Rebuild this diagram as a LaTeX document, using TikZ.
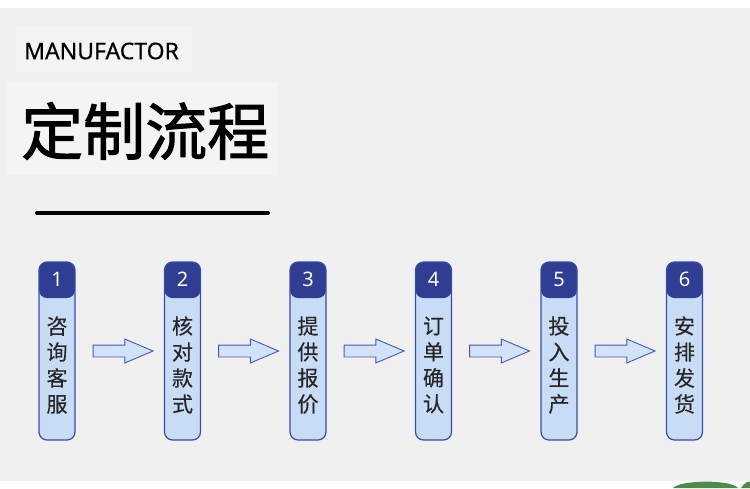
\documentclass[tikz,border=0pt]{standalone}
\usepackage{fontspec}
\setmainfont{Noto Sans}
\newfontfamily\cjk{Noto Sans CJK SC}
\usepackage{tikz}
\usetikzlibrary{shapes.arrows, positioning}
\definecolor{bgGray}{HTML}{F0F0F0}
\definecolor{panelGray}{HTML}{F4F4F4}
\definecolor{hdBlue}{HTML}{2F3E93}
\definecolor{bodyBlue}{HTML}{C9DCF5}
\definecolor{edgeBlue}{HTML}{3A4BA8}
\definecolor{arrowBlue}{HTML}{D2E2F8}
\definecolor{arrowEdge}{HTML}{4458BE}
\definecolor{leafGreen}{HTML}{4E8A4A}
\tikzset{
  stepbox/.style={
    rectangle, rounded corners=8pt,
    draw=edgeBlue, line width=1.2pt, fill=bodyBlue,
    minimum width=36pt, minimum height=178pt, inner sep=0pt,
    path picture={\fill[hdBlue] (path picture bounding box.north west)
      rectangle ([yshift=-36pt]path picture bounding box.north east);},
  },
  stepnum/.style={font=\fontsize{20}{20}\selectfont, text=white, inner sep=0pt},
  steptext/.style={font=\cjk\fontsize{21}{26}\selectfont\addfontfeature{FakeBold=0.3},
    align=center, text=black!85, inner sep=0pt},
  blockarrow/.style={single arrow, draw=arrowEdge, fill=arrowBlue,
    line width=0.9pt, minimum height=60pt, inner ysep=5.5pt, inner xsep=0pt,
    single arrow head extend=6pt, single arrow tip angle=46},
}

\begin{document}
\begin{tikzpicture}[
  x=1pt, y=-1pt,
  panel/.style={fill=panelGray, draw=none},
]
  \useasboundingbox (0,0) rectangle (750,488);
  % background
  \fill[white] (0,0) rectangle (750,8);
  \fill[bgGray] (0,8) rectangle (750,481);
  \fill[white] (0,481) rectangle (750,488);
  \fill[panel] (16,27) rectangle (192,72);
  \fill[panel] (7,82) rectangle (277,175);
  \fill[leafGreen] (673,488) .. controls (680,480) and (730,479) .. (738,488) -- cycle;
  \fill[leafGreen] (741,488) .. controls (744,482) and (750,481) .. (750,482) -- (750,488) -- cycle;

  % Title
  \node[font=\fontsize{23}{23}\selectfont\addfontfeature{FakeBold=0.4}, anchor=west, inner sep=0pt] (brand) at (24,51) {MANUFACTOR};
  \node[font=\cjk\fontsize{62}{62}\selectfont\addfontfeature{FakeBold=1.6}, anchor=west, inner sep=0pt] (title) at (21,131) {定制流程};
  \draw[line width=4pt, line cap=round] (37,213) -- (268,213);

  % Steps
  \node[stepbox] (s1) at (57,351) {};
  \node[stepbox, right=88.3pt of s1] (s2) {};
  \node[stepbox, right=88.3pt of s2] (s3) {};
  \node[stepbox, right=88.3pt of s3] (s4) {};
  \node[stepbox, right=88.3pt of s4] (s5) {};
  \node[stepbox, right=88.3pt of s5] (s6) {};

  % Numbers
  \node[stepnum] (n1) at ([yshift=-18pt]s1.north) {1};
  \node[stepnum] (n2) at ([yshift=-18pt]s2.north) {2};
  \node[stepnum] (n3) at ([yshift=-18pt]s3.north) {3};
  \node[stepnum] (n4) at ([yshift=-18pt]s4.north) {4};
  \node[stepnum] (n5) at ([yshift=-18pt]s5.north) {5};
  \node[stepnum] (n6) at ([yshift=-18pt]s6.north) {6};

  % Labels
  \node[steptext] (t1) at ([yshift=-14pt]s1.center) {咨\\询\\客\\服};
  \node[steptext] (t2) at ([yshift=-14pt]s2.center) {核\\对\\款\\式};
  \node[steptext] (t3) at ([yshift=-14pt]s3.center) {提\\供\\报\\价};
  \node[steptext] (t4) at ([yshift=-14pt]s4.center) {订\\单\\确\\认};
  \node[steptext] (t5) at ([yshift=-14pt]s5.center) {投\\入\\生\\产};
  \node[steptext] (t6) at ([yshift=-14pt]s6.center) {安\\排\\发\\货};

  % Arrows between steps
  \node[blockarrow, right=17pt of s1] (a1) {};
  \node[blockarrow, right=17pt of s2] (a2) {};
  \node[blockarrow, right=17pt of s3] (a3) {};
  \node[blockarrow, right=17pt of s4] (a4) {};
  \node[blockarrow, right=17pt of s5] (a5) {};

\end{tikzpicture}
\end{document}
